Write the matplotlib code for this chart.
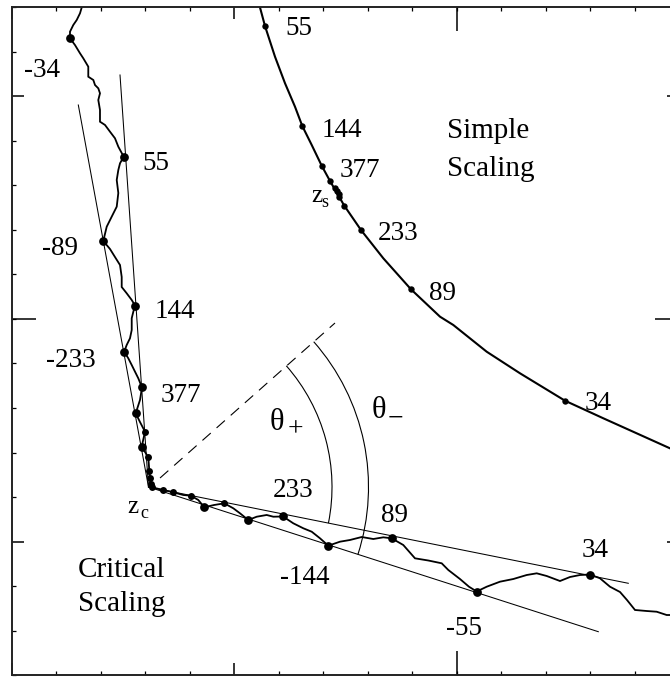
import matplotlib

matplotlib.use("Agg")

import matplotlib.pyplot as plt
import numpy as np
from matplotlib.patches import Arc

# axis units: one minor tick = 1
# critical-scaling trajectory (jagged curve)
CRIT_X = [1.573, 1.535, 1.461, 1.384, 1.310, 1.310, 1.422, 1.535, 1.609, 1.721,
          1.721, 1.834, 1.872, 1.946, 1.984, 1.946, 1.984, 1.984, 2.097, 2.209,
          2.321, 2.396, 2.517, 2.434, 2.396, 2.360, 2.396, 2.360, 2.247, 2.135,
          2.058, 2.209, 2.321, 2.434, 2.472, 2.472, 2.584, 2.697, 2.771, 2.733,
          2.697, 2.697, 2.658, 2.584, 2.528, 2.620, 2.697, 2.771, 2.845, 2.928,
          2.883, 2.787, 2.883, 2.996, 2.921, 3.070, 3.092, 3.108, 3.130, 3.220,
          3.407, 3.631, 3.856, 4.029, 4.193, 4.328, 4.546, 4.778, 4.980, 5.130,
          5.317, 5.506, 5.730, 5.879, 6.097, 6.328, 6.553, 6.742, 6.928, 7.115,
          7.378, 7.602, 7.865, 8.126, 8.351, 8.539, 8.800, 9.063, 9.362, 9.663,
          9.811, 10.074, 10.276, 10.449, 10.674, 10.973, 11.272, 11.573, 11.798, 12.022,
          12.321, 12.546, 12.771, 12.996, 13.220, 13.445, 13.670, 13.827, 14.007, 14.270,
          14.494, 14.719, 15.000]
CRIT_Y = [15.000, 14.870, 14.719, 14.607, 14.456, 14.308, 14.157, 13.971, 13.858, 13.670,
          13.445, 13.371, 13.258, 13.184, 13.072, 12.921, 12.697, 12.434, 12.360, 12.209,
          12.061, 11.872, 11.647, 11.499, 11.348, 11.124, 10.831, 10.524, 10.299, 10.074,
          9.753, 9.573, 9.393, 9.213, 8.944, 8.719, 8.578, 8.427, 8.303, 8.164,
          8.016, 7.753, 7.566, 7.416, 7.265, 7.117, 6.966, 6.816, 6.667, 6.461,
          6.180, 5.881, 5.685, 5.467, 5.130, 4.892, 4.591, 4.420, 4.270, 4.202,
          4.157, 4.106, 4.045, 4.029, 3.933, 3.769, 3.820, 3.858, 3.746, 3.634,
          3.483, 3.557, 3.596, 3.557, 3.562, 3.409, 3.297, 3.220, 3.072, 2.906,
          2.996, 3.034, 3.101, 3.056, 3.094, 3.072, 2.921, 2.622, 2.573, 2.510,
          2.360, 2.157, 1.984, 1.876, 1.984, 2.097, 2.157, 2.247, 2.285, 2.225,
          2.112, 2.202, 2.247, 2.258, 2.173, 1.984, 1.865, 1.685, 1.461, 1.438,
          1.422, 1.348, 1.348]

# marked iterates on the critical trajectory
CRIT_BIG_X = [1.310, 2.517, 2.058, 2.771, 2.528, 2.928, 2.787, 2.921, 4.328, 5.317,
              6.097, 7.115, 8.539, 10.449, 12.996]
CRIT_BIG_Y = [14.308, 11.647, 9.753, 8.303, 7.265, 6.461, 5.881, 5.130, 3.769, 3.483,
              3.562, 2.906, 3.072, 1.876, 2.258]
CRIT_SMALL_X = [2.996, 3.070, 3.092, 3.110, 3.130, 3.160, 3.407, 3.631, 4.029, 4.778]
CRIT_SMALL_Y = [5.467, 4.892, 4.591, 4.420, 4.300, 4.220, 4.157, 4.106, 4.029, 3.858]

CRIT_LABELS = ["-34", "55", "-89", "144", "-233", "377", "233", "-144", "89", "-55", "34"]
CRIT_LABEL_X = [0.692, 3.238, 1.085, 3.670, 1.321, 3.804, 6.321, 6.591, 8.613, 10.164, 13.108]
CRIT_LABEL_Y = [13.438, 11.348, 9.438, 8.022, 6.921, 6.135, 4.000, 2.045, 3.438, 0.899, 2.652]

# simple-scaling trajectory
SIMPLE_X = [5.580, 5.692, 5.917, 6.142, 6.366, 6.530, 6.742, 6.966, 7.153, 7.474,
            7.849, 8.351, 8.973, 9.625, 9.924, 10.674, 11.422, 12.434, 13.294, 14.045,
            14.793, 15.000]
SIMPLE_Y = [15.000, 14.584, 13.894, 13.297, 12.771, 12.337, 11.910, 11.445, 11.101, 10.546,
            10.000, 9.364, 8.667, 8.052, 7.865, 7.265, 6.780, 6.164, 5.769, 5.431,
            5.094, 5.011]
SIMPLE_DOT_X = [5.692, 6.530, 6.966, 7.153, 7.265, 7.310, 7.344, 7.366, 7.474, 7.849, 8.973, 12.434]
SIMPLE_DOT_Y = [14.584, 12.337, 11.445, 11.101, 10.955, 10.876, 10.809, 10.742, 10.546, 10.000, 8.667, 6.164]

SIMPLE_LABELS = ["55", "144", "377", "233", "89", "34"]
SIMPLE_LABEL_X = [6.445, 7.422, 7.827, 8.681, 9.692, 13.175]
SIMPLE_LABEL_Y = [14.382, 12.090, 11.191, 9.775, 8.427, 5.955]

# critical point and the asymptotic lines through it
ZC = (3.074, 4.225)
LINE_ENDS_X = [1.497, 2.434, 13.856, 13.182]
LINE_ENDS_Y = [12.809, 13.483, 2.061, 0.973]
DASH_X = [3.333, 7.265]
DASH_Y = [4.427, 7.910]
R_PLUS = 4.124
R_MINUS = 4.944

plt.rcParams.update({
    "font.family": ["Liberation Serif", "DejaVu Serif"],
    "font.size": 19.5,
})

fig = plt.figure(figsize=(6.70, 6.77), dpi=100)
ax = fig.add_axes([0.017463, 0.002954, 0.996269, 0.985968])
ax.set_xlim(0, 15)
ax.set_ylim(0, 15)

for sp in ax.spines.values():
    sp.set_linewidth(1.4)
    sp.set_color("#222222")

ax.set_xticks([0, 5, 15])
ax.set_xticks(np.arange(0, 16, 1), minor=True)
ax.set_yticks([3, 13])
ax.set_yticks(np.arange(0, 16, 1), minor=True)
ax.tick_params(which="major", direction="in", length=8.6, width=1.1,
               top=True, right=True, labelbottom=False, labelleft=False)
ax.tick_params(which="minor", direction="in", length=2.9, width=0.9,
               top=True, right=True)

# longer ticks through the middle of each side
for loc in ["bottom", "top"]:
    sec = ax.secondary_xaxis(loc)
    sec.set_xticks([10])
    sec.tick_params(direction="in", length=17.3, width=1.1, labelbottom=False, labeltop=False)
    sec.spines[loc].set_visible(False)
for loc in ["left", "right"]:
    sec = ax.secondary_yaxis(loc)
    sec.set_yticks([8])
    sec.tick_params(direction="in", length=17.3, width=1.1, labelleft=False, labelright=False)
    sec.spines[loc].set_visible(False)

# asymptotic lines from z_c
for ex, ey in zip(LINE_ENDS_X, LINE_ENDS_Y):
    ax.plot([ex, ZC[0]], [ey, ZC[1]], color="black", lw=0.75)

ax.plot(DASH_X, DASH_Y, color="black", lw=0.8, ls=(0, (10, 7)))

ang_dash = np.degrees(np.arctan2(DASH_Y[1] - ZC[1], DASH_X[1] - ZC[0]))
ang_plus = np.degrees(np.arctan2(LINE_ENDS_Y[2] - ZC[1], LINE_ENDS_X[2] - ZC[0]))
ang_minus = np.degrees(np.arctan2(LINE_ENDS_Y[3] - ZC[1], LINE_ENDS_X[3] - ZC[0]))
ax.add_patch(Arc(ZC, 2 * R_PLUS, 2 * R_PLUS, theta1=ang_plus, theta2=ang_dash, lw=0.8, color="black"))
ax.add_patch(Arc(ZC, 2 * R_MINUS, 2 * R_MINUS, theta1=ang_minus, theta2=ang_dash, lw=0.8, color="black"))

# trajectories
ax.plot(CRIT_X, CRIT_Y, color="black", lw=1.3, solid_joinstyle="miter")
ax.plot(CRIT_BIG_X, CRIT_BIG_Y, "o", color="black", ms=6.3, mec="none")
ax.plot(CRIT_SMALL_X, CRIT_SMALL_Y, "o", color="black", ms=5.0, mec="none")
ax.plot(SIMPLE_X, SIMPLE_Y, color="black", lw=1.5)
ax.plot(SIMPLE_DOT_X, SIMPLE_DOT_Y, "o", color="black", ms=4.6, mec="none")

for t, x, y in zip(CRIT_LABELS, CRIT_LABEL_X, CRIT_LABEL_Y):
    ax.text(x, y, t, ha="center", va="baseline")
for t, x, y in zip(SIMPLE_LABELS, SIMPLE_LABEL_X, SIMPLE_LABEL_Y):
    ax.text(x, y, t, ha="center", va="baseline")

ax.text(9.775, 12.067, "Simple", ha="left", va="baseline", fontsize=21)
ax.text(9.775, 11.213, "Scaling", ha="left", va="baseline", fontsize=21)
ax.text(1.490, 2.202, "Critical", ha="left", va="baseline", fontsize=21)
ax.text(1.490, 1.438, "Scaling", ha="left", va="baseline", fontsize=21)

ax.text(5.804, 5.506, "\u03b8", ha="left", va="baseline", fontsize=22)
ax.text(6.377, 5.360, "+", ha="center", va="baseline", fontsize=20)
ax.text(8.097, 5.775, "\u03b8", ha="left", va="baseline", fontsize=22)
ax.text(8.440, 5.600, "\u2212", ha="left", va="baseline", fontsize=20)

ax.text(2.591, 3.640, "z", ha="left", va="baseline", fontsize=18)
ax.text(2.883, 3.528, "c", ha="left", va="baseline", fontsize=13)
ax.text(6.742, 10.636, "z", ha="left", va="baseline", fontsize=18)
ax.text(6.966, 10.524, "s", ha="left", va="baseline", fontsize=13)

fig.savefig("out.png", dpi=100)
